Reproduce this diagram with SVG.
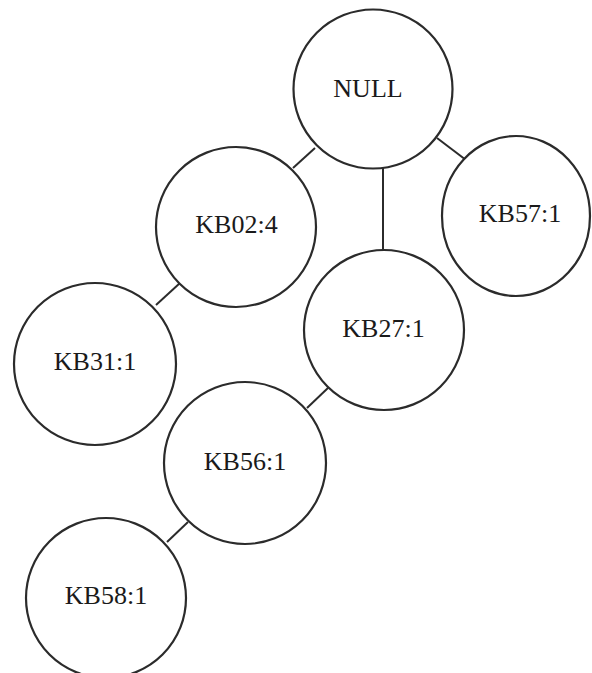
<svg xmlns="http://www.w3.org/2000/svg" width="592" height="673" viewBox="0 0 592 673">
  <style>
    .node { fill: #ffffff; stroke: #2b2b2b; stroke-width: 2.2; }
    .label { font-family: "Liberation Serif", "Times New Roman", serif; font-size: 26px; fill: #1a1a1a; text-anchor: middle; }
    .edge { stroke: #2b2b2b; stroke-width: 2; fill: none; }
  </style>
  <rect width="592" height="673" fill="#ffffff"/>

  <!-- tree edges -->
  <g id="connectors">
    <line class="edge" x1="293" y1="168" x2="315" y2="148"/>
    <line class="edge" x1="437" y1="138" x2="466" y2="160"/>
    <line class="edge" x1="383" y1="168" x2="383" y2="250"/>
    <line class="edge" x1="180" y1="283" x2="156" y2="305"/>
    <line class="edge" x1="329" y1="387" x2="307" y2="408"/>
    <line class="edge" x1="188" y1="522" x2="167" y2="542"/>
  </g>

  <g id="node-null">
    <circle class="node" cx="373" cy="89" r="79.5"/>
    <text class="label" x="368" y="97">NULL</text>
  </g>
  <g id="node-kb02">
    <circle class="node" cx="236" cy="227" r="80"/>
    <text class="label" x="236.5" y="233">KB02:4</text>
  </g>
  <g id="node-kb57">
    <ellipse class="node" cx="516" cy="216" rx="74" ry="80"/>
    <text class="label" x="520" y="222">KB57:1</text>
  </g>
  <g id="node-kb27">
    <circle class="node" cx="384" cy="330" r="80"/>
    <text class="label" x="383.5" y="337">KB27:1</text>
  </g>
  <g id="node-kb31">
    <circle class="node" cx="95" cy="364" r="81"/>
    <text class="label" x="95" y="370">KB31:1</text>
  </g>
  <g id="node-kb56">
    <circle class="node" cx="245" cy="463" r="81"/>
    <text class="label" x="245" y="470">KB56:1</text>
  </g>
  <g id="node-kb58">
    <circle class="node" cx="106" cy="598" r="80"/>
    <text class="label" x="106" y="604">KB58:1</text>
  </g>
</svg>
